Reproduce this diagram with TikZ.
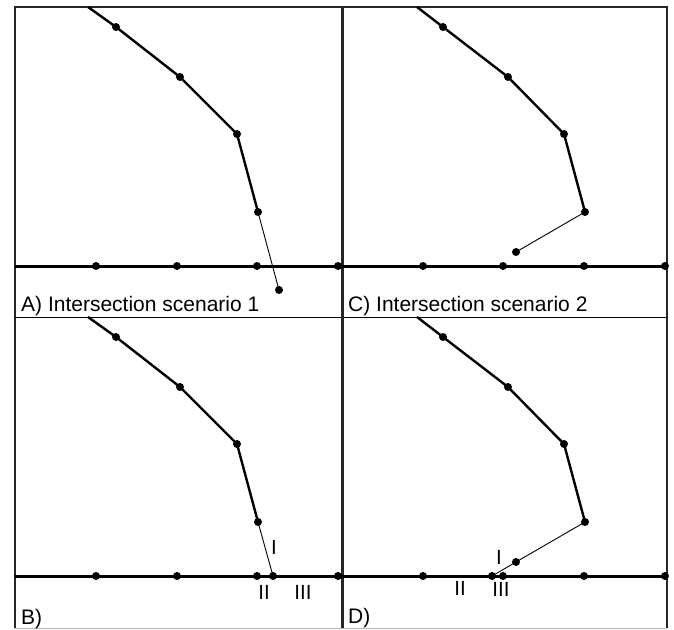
\documentclass[tikz,border=0pt]{standalone}
\usepackage{fontspec}
\setmainfont{Liberation Sans}

\begin{document}
\begin{tikzpicture}[x=1pt,y=-1pt,font=\fontsize{21}{25}\selectfont,
    dot/.style={circle,fill=black,inner sep=0pt,minimum size=8pt},
    axisline/.style={line width=3pt},
    polyline/.style={line width=2.4pt,line join=round},
    link/.style={line width=0.9pt},
    frame/.style={line width=2pt,draw=black!85},
    caption/.style={anchor=base west,inner sep=0pt},
    numeral/.style={inner sep=0pt,font=\fontsize{20.5}{24}\selectfont}]
    \useasboundingbox (0,0) rectangle (674,629);
    % frame and panel borders
    \coordinate (tl) at (15,7);
    \coordinate (tr) at (667,7);
    \coordinate (bl) at (15,628);
    \coordinate (br) at (667,628);
    \coordinate (mt) at (342,7);
    \coordinate (mb) at (342,628);
    \coordinate (sl) at (15,317);
    \coordinate (sr) at (667,317);
    \draw[frame] (bl) -- (tl) -- (tr) -- (br);
    \draw[gray!55,line width=1pt] (bl) -- (br);
    \draw[line width=0.8pt] (sl) -- (sr);
    \draw[line width=3pt,black!85] (mt) -- (mb);
    % axes
    \coordinate (ua) at (15,266);
    \coordinate (ub) at (667,266);
    \coordinate (la) at (15,576);
    \coordinate (lb) at (667,576);
    \draw[axisline] (ua) -- (ub);
    \draw[axisline] (la) -- (lb);
    \node[dot] (u1) at (96,266) {};
    \node[dot] (u2) at (177,266) {};
    \node[dot] (u3) at (257,266) {};
    \node[dot] (u4) at (338,266) {};
    \node[dot] (u5) at (423,266) {};
    \node[dot] (u6) at (503,266) {};
    \node[dot] (u7) at (584,266) {};
    \node[dot] (u8) at (665,266) {};
    \node[dot] (l1) at (96,576) {};
    \node[dot] (l2) at (177,576) {};
    \node[dot] (l3) at (257,576) {};
    \node[dot] (l4) at (338,576) {};
    \node[dot] (l5) at (423,576) {};
    \node[dot] (l6) at (503,576) {};
    \node[dot] (l7) at (584,576) {};
    \node[dot] (l8) at (665,576) {};
    % A) scenario 1
    \begin{scope}[shift={(15,266)}]
        \coordinate (a0) at (73,-259);
        \node[dot] (a1) at (101,-239) {};
        \node[dot] (a2) at (165,-189) {};
        \node[dot] (a3) at (222,-132) {};
        \node[dot] (a4) at (243,-54) {};
        \node[dot] (a5) at (264,24) {};
        \draw[polyline] (a0) -- (a1.center) -- (a2.center) -- (a3.center) -- (a4.center);
        \draw[link] (a4.center) -- (a5.center);
    \end{scope}
    % C) scenario 2
    \begin{scope}[shift={(342,266)}]
        \coordinate (c0) at (75,-259);
        \node[dot] (c1) at (101,-239) {};
        \node[dot] (c2) at (166,-189) {};
        \node[dot] (c3) at (222,-132) {};
        \node[dot] (c4) at (243,-54) {};
        \node[dot] (c5) at (174,-14) {};
        \draw[polyline] (c0) -- (c1.center) -- (c2.center) -- (c3.center) -- (c4.center);
        \draw[link] (c4.center) -- (c5.center);
    \end{scope}
    % B)
    \begin{scope}[shift={(15,576)}]
        \coordinate (b0) at (73,-259);
        \node[dot] (b1) at (101,-239) {};
        \node[dot] (b2) at (165,-189) {};
        \node[dot] (b3) at (222,-132) {};
        \node[dot] (b4) at (243,-54) {};
        \node[dot] (bx) at (258,0) {};
        \draw[polyline] (b0) -- (b1.center) -- (b2.center) -- (b3.center) -- (b4.center);
        \draw[link] (b4.center) -- (bx.center);
        \node[numeral] (bI) at (259,-29) {I};
        \node[numeral] (bII) at (249,16) {II};
        \node[numeral] (bIII) at (288,16) {III};
    \end{scope}
    % D)
    \begin{scope}[shift={(342,576)}]
        \coordinate (d0) at (75,-259);
        \node[dot] (d1) at (101,-239) {};
        \node[dot] (d2) at (166,-189) {};
        \node[dot] (d3) at (222,-132) {};
        \node[dot] (d4) at (243,-54) {};
        \node[dot] (d5) at (174,-14) {};
        \node[dot] (dx) at (150,0) {};
        \draw[polyline] (d0) -- (d1.center) -- (d2.center) -- (d3.center) -- (d4.center);
        \draw[link] (d4.center) -- (d5.center) -- (dx.center);
        \node[numeral] (dI) at (157,-19) {I};
        \node[numeral] (dII) at (118,12) {II};
        \node[numeral] (dIII) at (159,13) {III};
    \end{scope}
    % captions
    \node[caption] (capA) at (21,311) {A) Intersection scenario 1};
    \node[caption] (capC) at (348,311) {C) Intersection scenario 2};
    \node[caption] (capB) at (21,624) {B)};
    \node[caption] (capD) at (348,623) {D)};
\end{tikzpicture}
\end{document}
